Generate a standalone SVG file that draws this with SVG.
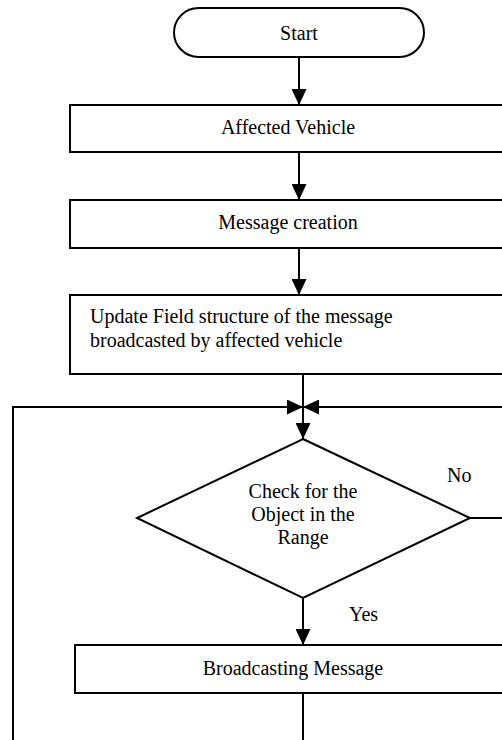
<svg xmlns="http://www.w3.org/2000/svg" width="502" height="740" viewBox="0 0 502 740">
<style>
.box{fill:#fff;stroke:#000;stroke-width:2}
.ln{fill:none;stroke:#000;stroke-width:2}
.t{font-family:"Liberation Serif","Times New Roman",serif;font-size:20px;fill:#000}
.c{text-anchor:middle}
</style>
<defs>
<marker id="ah" markerUnits="userSpaceOnUse" markerWidth="16" markerHeight="15" refX="16" refY="7.5" orient="auto" viewBox="0 0 16 15">
<path d="M0,0 L16,7.5 L0,15 z" fill="#000"/>
</marker>
</defs>
<rect width="502" height="740" fill="#fff"/>
<g id="connectors">
<line class="ln" x1="299" y1="57" x2="299" y2="105" marker-end="url(#ah)"/>
<line class="ln" x1="299" y1="152" x2="299" y2="200" marker-end="url(#ah)"/>
<line class="ln" x1="299" y1="248" x2="299" y2="295" marker-end="url(#ah)"/>
<line class="ln" x1="303" y1="374" x2="303" y2="439" marker-end="url(#ah)"/>
<line class="ln" x1="303" y1="598" x2="303" y2="645" marker-end="url(#ah)"/>
<path class="ln" d="M303,693 L303,760"/>
<path class="ln" d="M13,760 L13,407 L303,407" marker-end="url(#ah)"/>
<path class="ln" d="M470,518 L520,518"/>
<path class="ln" d="M520,407 L303,407" marker-end="url(#ah)"/>
<text class="t" x="447" y="482">No</text>
<text class="t" x="349" y="621">Yes</text>
</g>
<g id="start">
<rect class="box" x="174" y="8" width="250" height="49" rx="24.5"/>
<text class="t c" x="299" y="40">Start</text>
</g>
<g id="affected">
<rect class="box" x="70" y="105" width="436" height="47"/>
<text class="t c" x="288" y="134">Affected Vehicle</text>
</g>
<g id="message">
<rect class="box" x="70" y="200" width="436" height="48"/>
<text class="t c" x="288" y="229">Message creation</text>
</g>
<g id="update">
<rect class="box" x="70" y="295" width="460" height="79"/>
<text class="t" x="90" y="323">Update Field structure of the message</text>
<text class="t" x="90" y="347">broadcasted by affected vehicle</text>
</g>
<g id="check">
<polygon class="box" points="303,439 470,518 303,598 137,518"/>
<text class="t c" x="303" y="498">Check for the</text>
<text class="t c" x="303" y="521">Object in the</text>
<text class="t c" x="303" y="544">Range</text>
</g>
<g id="broadcast">
<rect class="box" x="75" y="645" width="436" height="48"/>
<text class="t c" x="293" y="675">Broadcasting Message</text>
</g>
</svg>
